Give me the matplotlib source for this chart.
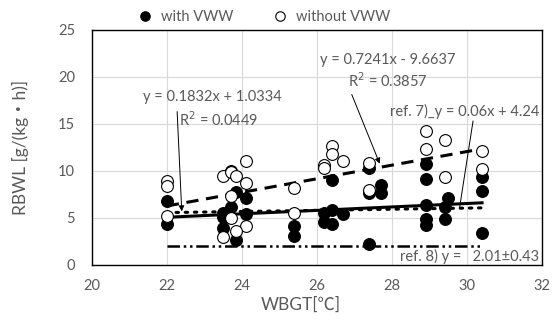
import numpy as np
import matplotlib.pyplot as plt

plt.rcParams['font.family'] = ['Lato', 'Noto Sans CJK JP', 'DejaVu Sans']

# with VWW (filled)
with_x = [22.0, 22.0, 23.5, 23.5, 23.5, 23.7, 23.7, 23.85, 23.85, 24.1, 24.1,
          25.4, 25.4, 26.2, 26.2, 26.4, 26.4, 26.4, 26.7, 27.4, 27.4, 27.7,
          27.7, 27.4, 28.9, 28.9, 28.9, 28.9, 28.9, 29.5, 29.4, 29.4, 30.4,
          30.4, 30.4]
with_y = [6.8, 4.4, 5.5, 5.1, 3.9, 10.0, 6.2, 7.8, 2.6, 7.1, 5.4,
          4.1, 3.1, 5.5, 4.6, 9.0, 5.8, 4.4, 5.4, 10.3, 7.6, 8.5,
          7.6, 2.2, 10.7, 9.1, 6.4, 4.9, 4.2, 7.1, 6.2, 4.9, 9.3,
          7.9, 3.4]

# without VWW (open)
without_x = [22.0, 22.0, 22.0, 23.5, 23.7, 23.85, 24.1, 24.1, 23.7, 23.7,
             24.1, 23.85, 23.5, 25.4, 25.4, 26.4, 26.4, 26.7, 26.2, 26.2,
             27.4, 27.4, 28.9, 28.9, 29.4, 29.4, 30.4, 30.4]
without_y = [8.9, 8.4, 5.2, 9.5, 9.85, 9.5, 11.0, 8.7, 7.3, 5.0,
             4.1, 3.6, 3.0, 8.2, 5.5, 12.7, 11.8, 11.1, 10.6, 10.3,
             10.8, 8.0, 14.2, 12.3, 13.3, 9.4, 12.1, 10.2]

# trend line coefficients (slope, intercept) as printed on the chart
fit_with = (0.1832, 1.0334)
fit_without = (0.7241, -9.6637)
ref7 = (0.06, 4.24)
ref8 = 2.01
x_span = [22.0, 30.4]

grey = '#595959'

fig = plt.figure(figsize=(5.6, 3.29), dpi=100)
ax = fig.add_axes([0.164, 0.195, 0.804, 0.714])

xs = np.array(x_span)
ax.plot(xs, fit_without[0] * xs + fit_without[1], color='black', lw=2.2,
        ls=(0, (4, 2.5)), zorder=2)
ax.plot(xs, fit_with[0] * xs + fit_with[1], color='black', lw=2.2, zorder=2)
ax.plot(xs, ref7[0] * xs + ref7[1], color='black', lw=2.2,
        ls=(0, (0.8, 2.2)), dash_capstyle='round', zorder=2)
ax.plot(xs, [ref8, ref8], color='black', lw=1.8,
        ls=(0, (5, 1.5, 1, 1.5, 1, 1.5)), zorder=2)

ax.plot(with_x, with_y, 'o', ms=8.5, mfc='black', mec='black', mew=0.8,
        label='with VWW', zorder=3)
ax.plot(without_x, without_y, 'o', ms=8.5, mfc='white', mec='black', mew=0.8,
        label='without VWW', zorder=4)

ax.set_xlim(20, 32)
ax.set_ylim(0, 25)
ax.set_xticks(range(20, 33, 2))
ax.set_yticks(range(0, 26, 5))
ax.grid(True, color='#d9d9d9', lw=0.8)
ax.set_axisbelow(True)
for s in ax.spines.values():
    s.set_color('black')
    s.set_linewidth(1.0)
ax.tick_params(axis='y', length=0, labelsize=10.5, colors=grey, pad=12)
ax.tick_params(axis='x', length=0, labelsize=10.5, colors=grey, pad=10)
ax.set_xlabel('WBGT[℃]', fontsize=12.5, color=grey)
ax.xaxis.set_label_coords(0.464, -0.135)
ax.set_ylabel('RBWL [g/(kg・h)]', fontsize=12.5, color=grey)
ax.yaxis.set_label_coords(-0.14, 0.5)

tc = grey
fs = 10.5
ax.text(23.2, 17.9, 'y = 0.1832x + 1.0334', fontsize=fs, color=tc,
        ha='center', va='center')
ax.text(22.33, 15.5, 'R$^2$ = 0.0449', fontsize=fs, color=tc,
        ha='left', va='center')
ax.annotate('', xy=(22.4, 5.4), xytext=(22.27, 16.6),
            arrowprops=dict(arrowstyle='-|>', color='black', lw=0.7,
                            mutation_scale=8))
ax.text(27.9, 21.8, 'y = 0.7241x - 9.6637', fontsize=fs, color=tc,
        ha='center', va='center')
ax.text(27.9, 19.6, 'R$^2$ = 0.3857', fontsize=fs, color=tc,
        ha='center', va='center')
ax.annotate('', xy=(27.7, 10.5), xytext=(26.9, 18.4),
            arrowprops=dict(arrowstyle='-|>', color='black', lw=0.7,
                            mutation_scale=8))
ax.text(31.92, 16.3, 'ref. 7)_y = 0.06x + 4.24', fontsize=fs, color=tc,
        ha='right', va='center')
ax.plot([30.16, 29.8], [15.3, 6.05], color='black', lw=0.7, zorder=2)
ax.text(31.92, 0.85, 'ref. 8) y =   2.01±0.43', fontsize=fs, color=tc,
        ha='right', va='center')

fig.legend(loc='upper center', bbox_to_anchor=(0.465, 1.01), ncol=2,
           frameon=False, fontsize=10.5, labelcolor=grey, handletextpad=0.1,
           columnspacing=2.2, markerscale=0.8)

fig.savefig('out.png', dpi=100)
